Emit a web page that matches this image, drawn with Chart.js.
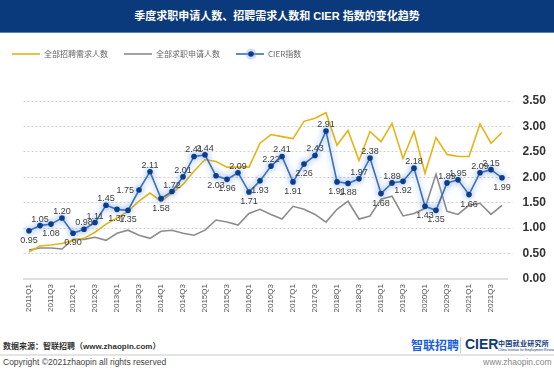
<!DOCTYPE html>
<html>
<head>
<meta charset="utf-8">
<script src="https://cdn.jsdelivr.net/npm/chart.js@4.4.0/dist/chart.umd.min.js"></script>
<style>
body{margin:0;width:554px;height:387px;background:#fff;position:relative;overflow:hidden;font-family:"Liberation Sans",Arial,"Noto Sans CJK SC",sans-serif;}
#title{position:absolute;left:0;top:0;width:554px;height:32px;background:#0b3a7c;color:#fff;font-size:11px;font-weight:bold;line-height:32px;text-align:center;border-bottom:1px solid #5a7fb5;}
#wrap{position:absolute;left:0;top:34px;width:554px;height:296px;}
.src{position:absolute;left:3px;top:340px;font-size:8px;font-weight:bold;color:#333;}
.rule{position:absolute;left:0;top:354px;width:554px;height:2px;background:#e4e4e4;}
.copy{position:absolute;left:3px;top:357px;font-size:8.5px;color:#444;}
.web{position:absolute;left:483px;top:357px;font-size:8.5px;color:#888;}
.zl{position:absolute;left:411px;top:336px;font-size:12px;font-weight:bold;color:#1b5fd9;}
.sep{position:absolute;left:460px;top:337px;width:1px;height:16px;background:#ccc;}
.cier{position:absolute;left:465px;top:336px;font-size:14px;font-weight:bold;color:#123a7a;}
.cn{position:absolute;left:498px;top:338px;font-size:7px;font-weight:bold;color:#123a7a;letter-spacing:0.3px;}
.en{position:absolute;left:498px;top:348px;font-size:6px;color:#123a7a;transform:scale(0.55);transform-origin:0 0;white-space:nowrap;}
</style>
</head>
<body>
<div id="title">季度求职申请人数、招聘需求人数和 CIER 指数的变化趋势</div>
<div id="wrap"><canvas id="chart" width="554" height="296"></canvas></div>
<div class="src">数据来源：智联招聘（www.zhaopin.com）</div>
<div class="zl">智联招聘</div>
<div class="sep"></div>
<div class="cier">CIER</div>
<div class="cn">中国就业研究所</div>
<div class="en">China Institute for Employment Research</div>
<div class="rule"></div>
<div class="copy">Copyright ©2021zhaopin all rights reserved</div>
<div class="web">www.zhaopin.com</div>
<script>
var quarters = ["2011Q1", "2011Q2", "2011Q3", "2011Q4", "2012Q1", "2012Q2", "2012Q3", "2012Q4",
"2013Q1", "2013Q2", "2013Q3", "2013Q4", "2014Q1", "2014Q2", "2014Q3", "2014Q4",
"2015Q1", "2015Q2", "2015Q3", "2015Q4", "2016Q1", "2016Q2", "2016Q3", "2016Q4",
"2017Q1", "2017Q2", "2017Q3", "2017Q4", "2018Q1", "2018Q2", "2018Q3", "2018Q4",
"2019Q1", "2019Q2", "2019Q3", "2019Q4", "2020Q1", "2020Q2", "2020Q3", "2020Q4",
"2021Q1", "2021Q2", "2021Q3", "2021Q4"];

// 全部招聘需求人数 (read against the right axis)
var demand = [0.53, 0.65, 0.67, 0.70, 0.76, 0.80, 0.92, 1.08, 1.20, 1.33, 1.53,
1.69, 1.53, 1.69, 1.86, 2.12, 2.35, 2.31, 2.20, 2.20, 2.20, 2.67, 2.84, 2.80,
2.76, 3.10, 3.16, 3.27, 2.63, 2.92, 2.33, 2.90, 2.70, 3.06, 2.37, 2.90, 2.08,
2.78, 2.45, 2.41, 2.41, 3.05, 2.67, 2.88];

// 全部求职申请人数
var applicants = [0.57, 0.61, 0.61, 0.59, 0.78, 0.78, 0.82, 0.76, 0.90, 0.96, 0.86,
0.80, 0.94, 0.96, 0.90, 0.86, 0.96, 1.16, 1.12, 1.06, 1.29, 1.37, 1.27, 1.18,
1.43, 1.37, 1.27, 1.12, 1.37, 1.53, 1.18, 1.24, 1.57, 1.63, 1.24, 1.29, 1.39,
2.06, 1.33, 1.27, 1.45, 1.49, 1.27, 1.45];

// CIER指数
var cier = [0.95, 1.05, 1.08, 1.20, 0.90, 0.98, 1.11, 1.45, 1.37, 1.35, 1.75,
2.11, 1.58, 1.72, 2.01, 2.41, 2.44, 2.03, 1.96, 2.09, 1.71, 1.93, 2.22, 2.41,
1.91, 2.26, 2.43, 2.91, 1.91, 1.88, 1.97, 2.38, 1.68, 1.89, 1.92, 2.18, 1.43,
1.35, 1.89, 1.95, 1.66, 2.09, 2.15, 1.99];

var yTicks = [0, 0.5, 1, 1.5, 2, 2.5, 3, 3.5];

// where each CIER label sits: a = above, b = below, l = left
var labelSide = ['b','a','b','a','b','a','a','a','b','b','l','a','b','a','a','a','a','b','b','a','b','b',
'a','a','b','b','a','a','b','b','a','a','b','a','b','a','b','b','a','a','b','a','a','b'];

Chart.defaults.font.family = '"Liberation Sans", Arial, "Noto Sans CJK SC", sans-serif';

function legendIcon(color, dot) {
  var c = document.createElement('canvas');
  c.width = 28; c.height = 12;
  var g = c.getContext('2d');
  g.strokeStyle = color; g.lineWidth = 1.6;
  g.beginPath(); g.moveTo(0, 6); g.lineTo(28, 6); g.stroke();
  if (dot) {
    g.fillStyle = 'rgba(120,160,230,0.35)';
    g.beginPath(); g.arc(15, 6, 5.5, 0, Math.PI * 2); g.fill();
    g.fillStyle = '#0c3c8c';
    g.beginPath(); g.arc(15, 6, 2.8, 0, Math.PI * 2); g.fill();
  }
  return c;
}

var icons = [legendIcon('#e6b412', false), legendIcon('#8c8c8c', false), legendIcon('#3b6fb6', true)];

var legendSpace = {
  id: 'legendSpace',
  afterInit: function (chart) {
    var fit = chart.legend.fit;
    chart.legend.fit = function () { fit.call(this); this.height += 33; };
  },
  afterLayout: function (chart) {
    chart.legend.left = -4;
  }
};

var glow = {
  id: 'glow',
  beforeDatasetDraw: function (chart, args) {
    if (args.index !== 2) return;
    chart.ctx.save();
    chart.ctx.shadowColor = 'rgba(90,140,225,0.75)';
    chart.ctx.shadowBlur = 6;
  },
  afterDatasetDraw: function (chart, args) {
    if (args.index !== 2) return;
    chart.ctx.restore();
  }
};

var valueLabels = {
  id: 'valueLabels',
  afterDatasetsDraw: function (chart) {
    var meta = chart.getDatasetMeta(2);
    var c = chart.ctx;
    c.save();
    c.font = '9px "Liberation Sans", Arial, sans-serif';
    c.fillStyle = '#3c3c3c';
    c.textBaseline = 'alphabetic';
    meta.data.forEach(function (pt, i) {
      var txt = cier[i].toFixed(2);
      var side = labelSide[i];
      c.textAlign = 'center';
      if (side === 'a') c.fillText(txt, pt.x, pt.y - 4);
      else if (side === 'b') c.fillText(txt, pt.x, pt.y + 12);
      else { c.textAlign = 'right'; c.fillText(txt, pt.x - 5, pt.y + 3); }
    });
    c.restore();
  }
};

var ctx = document.getElementById('chart').getContext('2d');

var chart = new Chart(ctx, {
  type: 'line',
  data: {
    labels: quarters,
    datasets: [
      {
        label: '全部招聘需求人数',
        data: demand,
        borderColor: '#e6b412',
        borderWidth: 1.6,
        pointRadius: 0,
        tension: 0,
        order: 1
      },
      {
        label: '全部求职申请人数',
        data: applicants,
        borderColor: '#8c8c8c',
        borderWidth: 1.6,
        pointRadius: 0,
        tension: 0,
        order: 2
      },
      {
        label: 'CIER指数',
        data: cier,
        borderColor: '#3b6fb6',
        borderWidth: 1.6,
        pointRadius: 2.8,
        pointStyle: 'circle',
        pointBackgroundColor: '#0c3c8c',
        pointBorderWidth: 0,
        tension: 0,
        order: 0
      }
    ]
  },
  options: {
    responsive: false,
    animation: false,
    layout: { padding: { left: 23.5, right: 0, top: 0, bottom: 12.5 } },
    plugins: {
      tooltip: { enabled: false },
      legend: {
        position: 'top',
        align: 'start',
        labels: {
          usePointStyle: true,
          pointStyleWidth: 28,
          padding: 16,
          color: '#666',
          font: { size: 8, family: '"Noto Sans CJK SC", "Liberation Sans", sans-serif' },
          sort: function (a, b) { return a.datasetIndex - b.datasetIndex; },
          generateLabels: function (chart) {
            var items = Chart.defaults.plugins.legend.labels.generateLabels(chart);
            items.forEach(function (it) { it.pointStyle = icons[it.datasetIndex]; });
            return items;
          }
        }
      }
    },
    scales: {
      x: {
        offset: true,
        grid: { display: false, drawTicks: false },
        border: { display: true, color: '#dedede', width: 2 },
        ticks: {
          autoSkip: false,
          maxRotation: 90,
          minRotation: 90,
          padding: 5,
          color: '#555',
          font: { size: 8 },
          callback: function (v, i) { return i % 2 === 0 ? quarters[i] : ''; }
        }
      },
      y: {
        position: 'right',
        min: 0,
        max: 3.5,
        afterBuildTicks: function (axis) {
          axis.ticks = yTicks.map(function (v) { return { value: v }; });
        },
        afterFit: function (axis) { axis.width = 46.5; },
        grid: {
          color: function (c) { return c.tick && c.tick.value === 0 ? 'rgba(0,0,0,0)' : '#cfcfcf'; },
          lineWidth: 1,
          drawTicks: true,
          tickLength: 5,
          tickBorderDash: [2, 2]
        },
        border: { display: false, dash: [2, 2] },
        ticks: {
          padding: 10,
          color: '#333',
          font: { size: 12, weight: 'bold' },
          callback: function (v) { return Number(v).toFixed(2); }
        }
      }
    }
  },
  plugins: [legendSpace, glow, valueLabels]
});
</script>
</body>
</html>
